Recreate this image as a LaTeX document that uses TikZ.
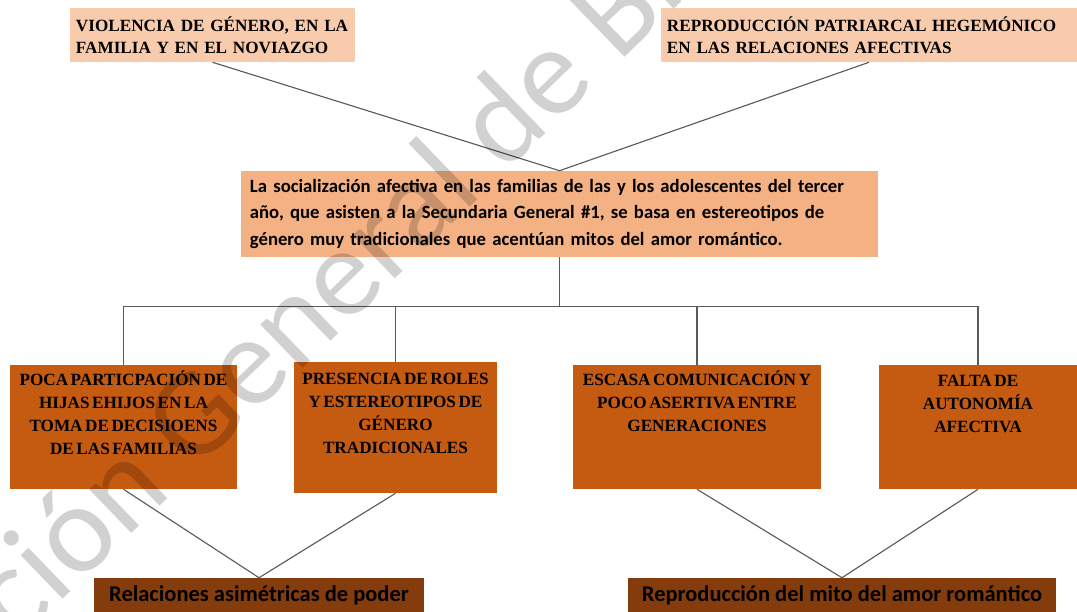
\documentclass[tikz,border=0pt]{standalone}
\usepackage{fontspec}
\setmainfont[WordSpace=0.6]{Liberation Serif}
\newfontfamily\carlito{Carlito}
\usetikzlibrary{positioning}

\definecolor{peachlight}{HTML}{F8CBAD}
\definecolor{peach}{HTML}{F4B183}
\definecolor{rust}{HTML}{C55A11}
\definecolor{darkrust}{HTML}{843C0C}
\definecolor{connline}{HTML}{5A5A5A}

\begin{document}
\begin{tikzpicture}[
    x=0.025cm, y=-0.025cm,
    topbox/.style={fill=peachlight, minimum height=1.35cm, inner xsep=0.15cm, align=left,
        font=\fontsize{12.2}{15.6}\selectfont\bfseries},
    mainbox/.style={fill=peach, minimum height=2.15cm, inner xsep=0.225cm, align=left,
        font=\carlito\fontsize{13.3}{18.5}\selectfont\bfseries},
    causebox/.style={fill=rust},
    causetext/.style={anchor=north, align=center, inner sep=0.1cm, yshift=-0.05cm,
        font=\fontsize{12.2}{16.3}\selectfont\bfseries},
    effectbox/.style={fill=darkrust, minimum height=0.875cm,
        font=\carlito\fontsize{16}{19}\selectfont\bfseries},
    connector/.style={-, connline, line width=0.8pt},
    watermark/.style={font=\carlito\fontsize{90}{90}\selectfont, text=black, opacity=0.18}
    ]
    \useasboundingbox (0,0) rectangle (1077,611);

    %Nodes
    \node[topbox, text width=6.825cm] (viol) at (212.5,35)
        {VIOLENCIA DE GÉNERO, EN LA\\FAMILIA Y EN EL NOVIAZGO};
    \node[topbox, text width=10.1cm] (repr) at (869,35)
        {REPRODUCCIÓN PATRIARCAL HEGEMÓNICO\\EN LAS RELACIONES AFECTIVAS};

    \node[mainbox, text width=15.475cm] (soc) at (559.5,214)
        {La socialización afectiva en las familias de las y los adolescentes del tercer\\
         año, que asisten a la Secundaria General \#1, se basa en estereotipos de\\
         género muy tradicionales que acentúan mitos del amor romántico.};

    \node[causebox, minimum width=5.675cm, minimum height=3.1cm,
        label={[causetext]north:POCA PARTICPACIÓN DE\\HIJAS EHIJOS EN LA\\TOMA DE DECISIOENS\\DE LAS FAMILIAS}]
        (c1) at (123.5,427) {};
    \node[causebox, minimum width=5.075cm, minimum height=3.275cm,
        label={[causetext, yshift=-0.125cm]north:PRESENCIA DE ROLES\\Y ESTEREOTIPOS DE\\GÉNERO\\TRADICIONALES}]
        (c2) at (395.5,427.5) {};
    \node[causebox, minimum width=6.2cm, minimum height=3.1cm,
        label={[causetext]north:ESCASA COMUNICACIÓN Y\\POCO ASERTIVA ENTRE\\GENERACIONES}]
        (c3) at (697,427) {};
    \node[causebox, minimum width=4.95cm, minimum height=3.1cm,
        label={[causetext, yshift=-0.1cm]north:FALTA DE\\AUTONOMÍA\\AFECTIVA}]
        (c4) at (978,427) {};

    \node[effectbox, minimum width=8.25cm] (e1) at (259,595.5) {Relaciones asimétricas de poder};
    \node[effectbox, minimum width=10.7cm] (e2) at (842,595.5) {Reproducción del mito del amor romántico};

    %Lines
    \draw[connector] (viol.south) -- (soc.north) -- (repr.south);

    \draw[connector] (soc.south) -- ++(0,49) coordinate (bus);
    \draw[connector] (bus -| c1.north) -- (bus -| c4.north);
    \foreach \c in {c1,c2,c3,c4}
        \draw[connector] (bus -| \c.north) -- (\c.north);

    \draw[connector] (c1.south) -- (e1.north) -- (c2.south);
    \draw[connector] (c3.south) -- (e2.north) -- (c4.south);

    %Watermark
    \node[watermark, rotate=44] (wmark) at (323,288) {ción General de Bi};

\end{tikzpicture}
\end{document}
